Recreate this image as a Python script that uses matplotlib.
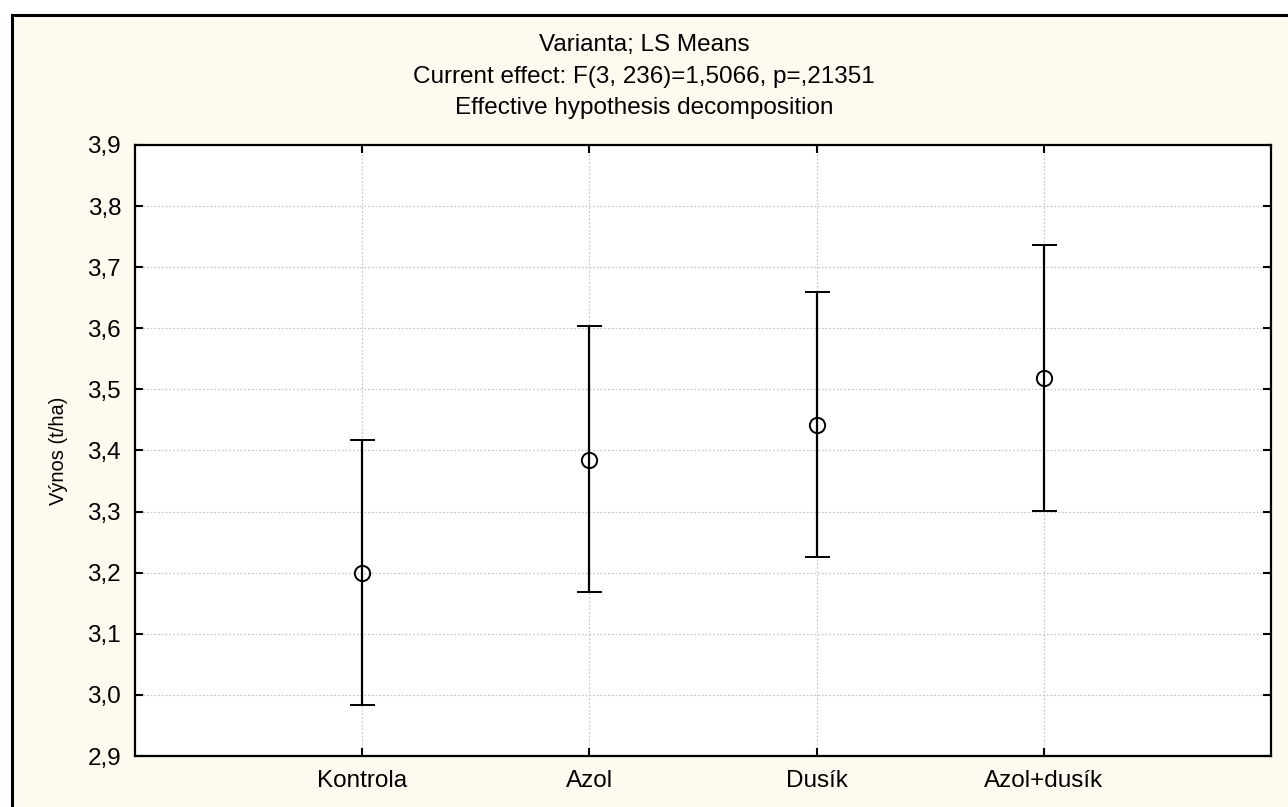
import numpy as np
import matplotlib.pyplot as plt
from matplotlib.patches import Rectangle

##DATA##########################################################################
varianty = ['Kontrola', 'Azol', 'Dusík', 'Azol+dusík']
means = [3.200, 3.385, 3.442, 3.518]
upper = [3.418, 3.603, 3.660, 3.736]
lower = [2.983, 3.168, 3.225, 3.301]
yticks = [2.9, 3.0, 3.1, 3.2, 3.3, 3.4, 3.5, 3.6, 3.7, 3.8, 3.9]
ytick_labels = ['2,9', '3,0', '3,1', '3,2', '3,3', '3,4', '3,5', '3,6', '3,7', '3,8', '3,9']
title_lines = ['Varianta; LS Means',
               'Current effect: F(3, 236)=1,5066, p=,21351',
               'Effective hypothesis decomposition']
################################################################################

plt.rcParams['font.family'] = ['Liberation Sans', 'DejaVu Sans']

W, H = 1288, 807
fig = plt.figure(figsize=(W / 100, H / 100), dpi=100)
fig.patch.set_facecolor('white')

# cream panel with black frame (left/top edges visible, rest runs off the image)
fig.patches.append(Rectangle((12 / W, -0.05), 1.1, (H - 15) / H + 0.05,
                             transform=fig.transFigure, facecolor='#fffaf0',
                             edgecolor='black', linewidth=2.2, zorder=-10))

ax = fig.add_axes([135 / W, (H - 756) / H, (1271 - 135) / W, (756 - 145) / H])
ax.set_facecolor('white')

x = np.arange(1, len(varianty) + 1)
m = np.array(means)
yerr = [m - np.array(lower), np.array(upper) - m]
ax.errorbar(x, m, yerr=yerr, fmt='o', color='black', ecolor='black',
            elinewidth=1.6, capsize=9, capthick=1.6, markersize=11,
            markerfacecolor='none', markeredgewidth=1.4, zorder=3)

ax.set_xlim(0, 5)
ax.set_ylim(2.9, 3.9)
ax.set_xticks(x)
ax.set_xticklabels(varianty)
ax.set_yticks(yticks)
ax.set_yticklabels(ytick_labels)

ax.grid(True, color='#c8c8c8', linestyle=(0, (1.5, 1.5)), linewidth=0.9)
ax.set_axisbelow(True)
ax.tick_params(direction='in', length=6, width=1.5, top=True, right=True,
               labelsize=17.5, pad=10)
for s in ax.spines.values():
    s.set_linewidth(1.6)

ax.set_ylabel('Výnos (t/ha)', fontsize=14.5, labelpad=14)

for y, t in zip([45, 77, 108], title_lines):
    fig.text(0.5, 1 - y / H, t, ha='center', va='center', fontsize=17.5)

plt.savefig('out.png', dpi=100, facecolor=fig.get_facecolor())
